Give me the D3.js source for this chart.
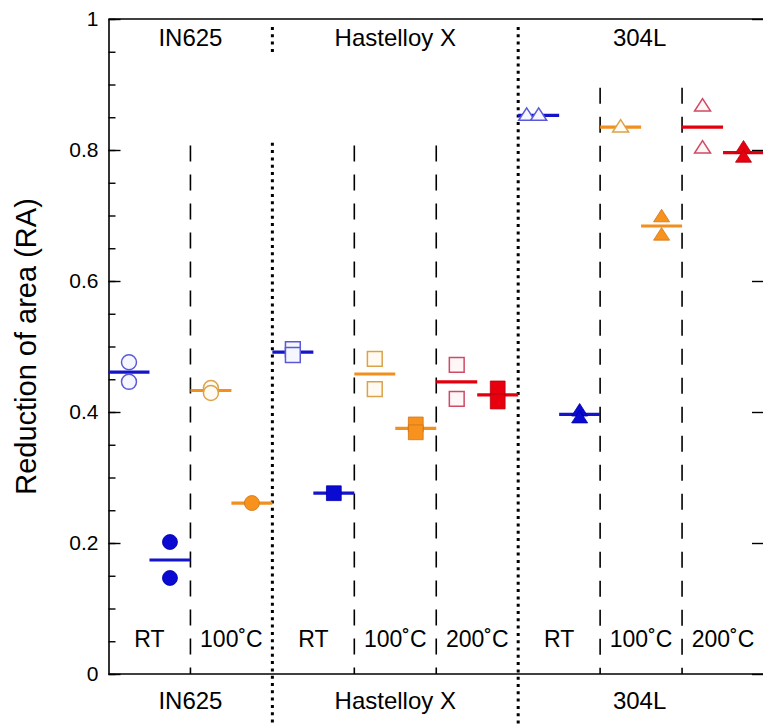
<!DOCTYPE html>
<html>
<head>
<meta charset="utf-8">
<script src="https://cdn.jsdelivr.net/npm/d3@7"></script>
<style>
  html, body { margin: 0; padding: 0; background: #fff; }
  svg { display: block; font-family: "Liberation Sans", Arial, Helvetica, sans-serif; }
</style>
</head>
<body>
<svg id="chart" width="763" height="726"></svg>
<script>
// ---------------- data ----------------
const materials = ["IN625", "Hastelloy X", "304L"];
const materialShapes = ["circle", "square", "triangle"];
const slotMaterial = [0, 0, 1, 1, 1, 2, 2, 2];
const slotTemp = ["RT", "100˚C", "RT", "100˚C", "200˚C", "RT", "100˚C", "200˚C"];
const slotColor = ["blue", "orange", "blue", "orange", "red", "blue", "orange", "red"];
// open markers (left half of each slot)
const openValues = [
  [0.476, 0.446],
  [0.4366, 0.429],
  [0.496, 0.487],
  [0.481, 0.435],
  [0.472, 0.420],
  [0.853, 0.853],
  [0.835],
  [0.867, 0.803]
];
// filled markers (right half of each slot)
const filledValues = [
  [0.2015, 0.1466],
  [0.261],
  [0.276],
  [0.381, 0.369],
  [0.436, 0.416],
  [0.4015, 0.391],
  [0.698, 0.670],
  [0.803, 0.789]
];
const yMajorTicks = [0, 0.2, 0.4, 0.6, 0.8, 1];
const yTickLabels = ["0", "0.2", "0.4", "0.6", "0.8", "1"];
const yMinorTicks = d3.range(0, 1.0001, 0.05).map(v => +v.toFixed(2));
const yTitle = "Reduction of area (RA)";

// ---------------- styles ----------------
const palette = {
  blue:   { line: "#1414c8", fill: "#0a0ad2", fillStroke: "#0000a8", openStroke: "#5a5ad8", openFill: "#f6f6ff" },
  orange: { line: "#f18f1f", fill: "#f7921e", fillStroke: "#cf7312", openStroke: "#dca24a", openFill: "#fffbf3" },
  red:    { line: "#e2000e", fill: "#e8000f", fillStroke: "#b4000c", openStroke: "#cf4a64", openFill: "#fff6f8" }
};

const W = 763, H = 726;
const svg = d3.select("#chart");

const x = d3.scaleLinear().domain([0, 8]).range([108.5, 764]);
const y = d3.scaleLinear().domain([0, 1]).range([674, 19]);

// ---------------- frame ----------------
svg.append("line").attr("x1", x(0)).attr("x2", W).attr("y1", y(1)).attr("y2", y(1))
  .attr("stroke", "#000").attr("stroke-width", 1.6);
svg.append("line").attr("x1", x(0)).attr("x2", W).attr("y1", y(0)).attr("y2", y(0))
  .attr("stroke", "#000").attr("stroke-width", 1.6);

// left axis
const gL = svg.append("g").attr("transform", `translate(${x(0)},0)`);
gL.call(d3.axisLeft(y).tickValues(yMinorTicks).tickSizeInner(-7).tickSizeOuter(0).tickFormat(""));
gL.call(g => g.select(".domain").remove());
const gL2 = svg.append("g").attr("transform", `translate(${x(0)},0)`);
gL2.call(d3.axisLeft(y).tickValues(yMajorTicks).tickSizeInner(-12).tickSizeOuter(0)
  .tickPadding(10).tickFormat((d, i) => yTickLabels[i]));
gL2.select(".domain").attr("stroke-width", 1.6);
svg.selectAll("g.tick line").attr("stroke-width", 1.4);
gL2.selectAll("text").attr("font-size", 21).attr("fill", "#000")
  .attr("font-family", "'Liberation Sans', Arial, sans-serif");

// right axis (inward ticks)
const gR = svg.append("g").attr("transform", `translate(${x(8)},0)`);
gR.call(d3.axisRight(y).tickValues(yMinorTicks).tickSizeInner(-6).tickSizeOuter(0).tickFormat(""));
gR.call(d3.axisRight(y).tickValues(yMajorTicks).tickSizeInner(-12).tickSizeOuter(0).tickFormat(""));
gR.selectAll("line").attr("stroke-width", 1.4);

// y title
svg.append("text")
  .attr("transform", `translate(36,${(y(0) + y(1)) / 2}) rotate(-90)`)
  .attr("text-anchor", "middle").attr("font-size", 29).attr("fill", "#000")
  .text(yTitle);

// ---------------- dividers ----------------
const matStarts = [];
slotMaterial.forEach((m, i) => { if (i > 0 && slotMaterial[i - 1] !== m) matStarts.push(i); });
const dotted = (xx, y1, y2) => svg.append("line")
  .attr("x1", xx).attr("x2", xx).attr("y1", y1).attr("y2", y2)
  .attr("stroke", "#000").attr("stroke-width", 3).attr("stroke-dasharray", "3,4.3");
dotted(x(matStarts[0]), 27, 53);
dotted(x(matStarts[0]), y(0.811), H);
dotted(x(matStarts[1]), 27, H);

slotMaterial.forEach((m, i) => {
  if (i > 0 && slotMaterial[i - 1] === m) {
    const topVal = m === 2 ? 0.895 : 0.807;
    svg.append("line")
      .attr("x1", x(i)).attr("x2", x(i)).attr("y1", y(topVal)).attr("y2", y(0))
      .attr("stroke", "#000").attr("stroke-width", 1.6).attr("stroke-dasharray", "16,13");
  }
});

// ---------------- labels ----------------
materials.forEach((name, m) => {
  const idx = slotMaterial.map((s, i) => s === m ? i : -1).filter(i => i >= 0);
  const cx = (x(idx[0]) + x(idx[idx.length - 1] + 1)) / 2;
  const xx = m === 2 ? (x(idx[0]) + x(8) - 3) / 2 : cx;
  svg.append("text").attr("x", xx).attr("y", 46).attr("text-anchor", "middle")
    .attr("font-size", 24).attr("fill", "#000").text(name);
  svg.append("text").attr("x", xx).attr("y", 709).attr("text-anchor", "middle")
    .attr("font-size", 24).attr("fill", "#000").text(name);
});
slotTemp.forEach((t, i) => {
  svg.append("text").attr("x", x(i + 0.5)).attr("y", 646.5).attr("text-anchor", "middle")
    .attr("font-size", 23).attr("fill", "#000").text(t);
});

// ---------------- markers ----------------
function shapePath(shape) {
  if (shape === "circle") return d3.symbol(d3.symbolCircle, Math.PI * 7.5 * 7.5)();
  if (shape === "square") return "M-7.4,-7.4H7.4V7.4H-7.4Z";
  return "M0,-7.5L8,5L-8,5Z";
}

const gLines = svg.append("g");
const gMarks = svg.append("g");

function drawGroup(vals, slot, half, filled) {
  const col = palette[slotColor[slot]];
  const shape = materialShapes[slotMaterial[slot]];
  const x0 = x(slot + half * 0.5), x1 = x(slot + half * 0.5 + 0.5);
  const cx = x(slot + half * 0.5 + 0.25);
  const mean = d3.mean(vals);
  gLines.append("line").attr("x1", x0).attr("x2", x1)
    .attr("y1", y(mean)).attr("y2", y(mean))
    .attr("stroke", col.line).attr("stroke-width", 3.2);
  const dup = vals.length === 2 && Math.abs(vals[0] - vals[1]) < 0.004;
  vals.forEach((v, k) => {
    const dx = dup ? (k === 0 ? -12 : 0) : 0;
    gMarks.append("path")
      .attr("d", shapePath(shape))
      .attr("transform", `translate(${cx + dx},${y(v)})`)
      .attr("fill", filled ? col.fill : col.openFill)
      .attr("stroke", filled ? col.fillStroke : col.openStroke)
      .attr("stroke-width", filled ? 0.8 : 1.5);
  });
}

openValues.forEach((vals, i) => drawGroup(vals, i, 0, false));
filledValues.forEach((vals, i) => drawGroup(vals, i, 1, true));
</script>
</body>
</html>
